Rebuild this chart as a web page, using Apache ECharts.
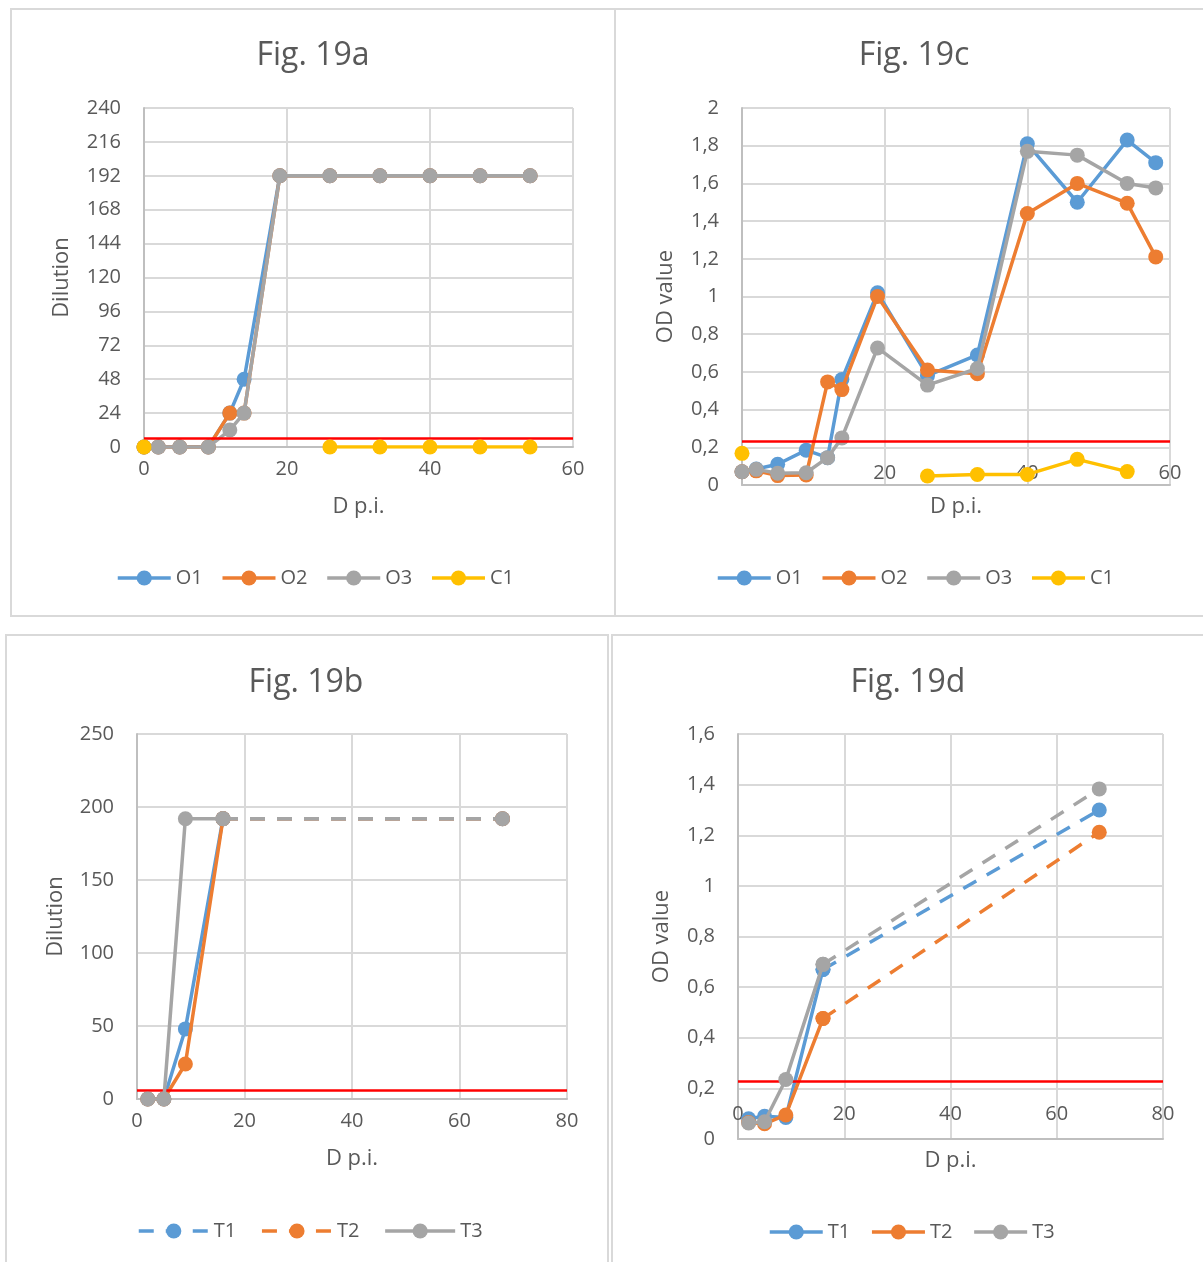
<!DOCTYPE html>
<html>
<head>
<meta charset="utf-8">
<title>Fig. 19</title>
<script src="https://cdn.jsdelivr.net/npm/echarts/dist/echarts.min.js"></script>
<style>
  html, body { margin: 0; padding: 0; background: #ffffff; }
  body { position: relative; width: 1203px; height: 1262px; overflow: hidden; }
  .frame { position: absolute; border: 2px solid #d9d9d9; box-sizing: border-box; }
  .chart { position: absolute; }
</style>
</head>
<body>
<div class="frame" style="left:10px;top:8px;width:606px;height:609px"></div>
<div class="frame" style="left:614px;top:8px;width:620px;height:609px"></div>
<div class="frame" style="left:5px;top:634px;width:604px;height:700px"></div>
<div class="frame" style="left:611px;top:634px;width:620px;height:700px"></div>

<div id="figA" class="chart" style="left:10px;top:8px;width:606px;height:609px"></div>
<div id="figC" class="chart" style="left:615px;top:8px;width:598px;height:609px"></div>
<div id="figB" class="chart" style="left:5px;top:635px;width:602px;height:627px"></div>
<div id="figD" class="chart" style="left:612px;top:635px;width:592px;height:627px"></div>

<script>
// ---- Fig. 19a: dilution titres, O1-O3 and control C1 ----
const daysO = [0, 2, 5, 9, 12, 14, 19, 26, 33, 40, 47, 54];
const dilutionO1 = [0, 0, 0, 0, 24, 48, 192, 192, 192, 192, 192, 192];
const dilutionO2 = [0, 0, 0, 0, 24, 24, 192, 192, 192, 192, 192, 192];
const dilutionO3 = [0, 0, 0, 0, 12, 24, 192, 192, 192, 192, 192, 192];
const dilutionC1 = [0, null, null, null, null, null, null, 0, 0, 0, 0, 0];

// ---- Fig. 19c: OD values, O1-O3 and control C1 ----
const daysOD = [0, 2, 5, 9, 12, 14, 19, 26, 33, 40, 47, 54, 58];
const odO1 = [0.07, 0.085, 0.11, 0.185, 0.145, 0.56, 1.02, 0.58, 0.69, 1.81, 1.50, 1.83, 1.71];
const odO2 = [0.07, 0.075, 0.05, 0.053, 0.547, 0.506, 1.00, 0.61, 0.59, 1.44, 1.60, 1.495, 1.21];
const odO3 = [0.07, 0.083, 0.062, 0.065, 0.145, 0.25, 0.727, 0.53, 0.618, 1.77, 1.75, 1.60, 1.576];
const odC1 = [0.168, null, null, null, null, null, null, 0.048, 0.056, 0.056, 0.136, 0.071, null];

// ---- Fig. 19b / 19d: T1-T3 ----
const daysT = [2, 5, 9, 16, 68];
const dilutionT1 = [0, 0, 48, 192, 192];
const dilutionT2 = [0, 0, 24, 192, 192];
const dilutionT3 = [0, 0, 192, 192, 192];
const odT1 = [0.08, 0.09, 0.085, 0.67, 1.30];
const odT2 = [0.065, 0.06, 0.095, 0.476, 1.212];
const odT3 = [0.063, 0.068, 0.235, 0.69, 1.383];
// the T series are joined by a dashed segment from this sample onwards
const dashedFrom = 3;

// cut-off levels (red lines)
const dilutionCutoff = 6;
const odCutoff = 0.23;

// tick settings
const dilutionTicksA = { max: 240, interval: 24 };
const dilutionTicksB = { max: 250, interval: 50 };
const odTicksC = { max: 2, interval: 0.2 };
const odTicksD = { max: 1.6, interval: 0.2 };
const dayTicksShort = { max: 60, interval: 20 };
const dayTicksLong = { max: 80, interval: 20 };

const FONT = '"Open Sans", "Liberation Sans", sans-serif';
const TEXT = '#595959';
const BLUE = '#5B9BD5', ORANGE = '#ED7D31', GREY = '#A5A5A5', YELLOW = '#FFC000';

function pairs(xs, ys, from, to) {
  const out = [];
  for (let i = from; i < to; i++) out.push([xs[i], ys[i] == null ? '-' : ys[i]]);
  return out;
}
function allPairs(xs, ys) { return pairs(xs, ys, 0, xs.length); }

function lineSeries(name, data, color, z, dashed) {
  return {
    name, type: 'line', data, z,
    symbol: 'circle', symbolSize: 15, showAllSymbol: true,
    connectNulls: false,
    lineStyle: { color, width: 3.5, type: dashed ? [15, 12] : 'solid', cap: 'butt' },
    itemStyle: { color },
    emphasis: { disabled: true },
    animation: false
  };
}

function cutoffSeries(value) {
  return {
    name: 'cut-off', type: 'line', data: [], z: 1, silent: true, animation: false,
    markLine: {
      silent: true, animation: false, symbol: ['none', 'none'],
      label: { show: false },
      lineStyle: { color: '#FF0000', width: 2.5, type: 'solid' },
      data: [{ yAxis: value }]
    }
  };
}

const decimalComma = v => String(+(+v).toFixed(1)).replace('.', ',');

function xAxisOpt(ticks, inside, margin, nameGap) {
  return {
    type: 'value', min: 0, max: ticks.max, interval: ticks.interval,
    name: 'D p.i.', nameLocation: 'middle', nameGap,
    nameTextStyle: { color: TEXT, fontSize: 22, fontFamily: FONT },
    axisLine: { show: true, onZero: false, lineStyle: { color: '#BFBFBF', width: 2 } },
    axisTick: { show: false },
    axisLabel: { color: TEXT, fontSize: 20, fontFamily: FONT, inside, margin },
    splitLine: { show: true, lineStyle: { color: '#D9D9D9', width: 2 } }
  };
}

function yAxisOpt(ticks, name, nameGap, formatter) {
  return {
    type: 'value', min: 0, max: ticks.max, interval: ticks.interval,
    name, nameLocation: 'middle', nameGap,
    nameTextStyle: { color: TEXT, fontSize: 22, fontFamily: FONT },
    axisLine: { show: true, lineStyle: { color: '#BFBFBF', width: 2 } },
    axisTick: { show: false },
    axisLabel: { color: TEXT, fontSize: 20, fontFamily: FONT, margin: 23, formatter },
    splitLine: { show: true, lineStyle: { color: '#D9D9D9', width: 2 } }
  };
}

function legendOpt(left, top, names, itemWidth, itemGap) {
  return {
    left, top, padding: 0, itemWidth, itemHeight: 19, itemGap,
    selectedMode: false, data: names,
    textStyle: { color: TEXT, fontSize: 20, fontFamily: FONT },
    lineStyle: { width: 3.5 }
  };
}

function titleOpt(text, top) {
  return {
    text, left: 'center', top, padding: 0,
    textStyle: { color: TEXT, fontSize: 32, fontWeight: 'normal', fontFamily: FONT }
  };
}

function render(id, option) {
  const chart = echarts.init(document.getElementById(id), null, { renderer: 'canvas' });
  option.animation = false;
  option.textStyle = { fontFamily: FONT };
  chart.setOption(option);
}

// Fig. 19a  (container origin 10, 8)
render('figA', {
  title: titleOpt('Fig. 19a', 32),
  grid: { left: 134, top: 100, width: 429, height: 339 },
  xAxis: xAxisOpt(dayTicksShort, false, 12, 49),
  yAxis: yAxisOpt(dilutionTicksA, 'Dilution', 71),
  legend: legendOpt(106, 560, ['O1', 'O2', 'O3', 'C1'], 53, 18),
  series: [
    cutoffSeries(dilutionCutoff),
    lineSeries('O1', allPairs(daysO, dilutionO1), BLUE, 2),
    lineSeries('O2', allPairs(daysO, dilutionO2), ORANGE, 3),
    lineSeries('O3', allPairs(daysO, dilutionO3), GREY, 4),
    lineSeries('C1', allPairs(daysO, dilutionC1), YELLOW, 5)
  ]
});

// Fig. 19c  (container origin 615, 8)
render('figC', {
  title: titleOpt('Fig. 19c', 32),
  grid: { left: 127, top: 100, width: 428, height: 377 },
  xAxis: xAxisOpt(dayTicksShort, true, 2, 11),
  yAxis: yAxisOpt(odTicksC, 'OD value', 65, decimalComma),
  legend: legendOpt(101, 560, ['O1', 'O2', 'O3', 'C1'], 53, 18),
  series: [
    cutoffSeries(odCutoff),
    lineSeries('O1', allPairs(daysOD, odO1), BLUE, 2),
    lineSeries('O2', allPairs(daysOD, odO2), ORANGE, 3),
    lineSeries('O3', allPairs(daysOD, odO3), GREY, 4),
    lineSeries('C1', allPairs(daysOD, odC1), YELLOW, 5)
  ]
});

// Fig. 19b  (container origin 5, 635)
const nT = daysT.length;
render('figB', {
  title: titleOpt('Fig. 19b', 32),
  grid: { left: 132, top: 99, width: 430, height: 365 },
  xAxis: xAxisOpt(dayTicksLong, false, 12, 49),
  yAxis: yAxisOpt(dilutionTicksB, 'Dilution', 70),
  legend: legendOpt(132, 586, ['T1', 'T2', 'T3'], 70, 24),
  series: [
    cutoffSeries(dilutionCutoff),
    lineSeries('T1 measured', pairs(daysT, dilutionT1, 0, dashedFrom + 1), BLUE, 2),
    lineSeries('T1', pairs(daysT, dilutionT1, dashedFrom, nT), BLUE, 3, true),
    lineSeries('T2 measured', pairs(daysT, dilutionT2, 0, dashedFrom + 1), ORANGE, 4),
    lineSeries('T2', pairs(daysT, dilutionT2, dashedFrom, nT), ORANGE, 5, true),
    lineSeries('T3', pairs(daysT, dilutionT3, 0, dashedFrom + 1), GREY, 6),
    lineSeries('T3 extended', pairs(daysT, dilutionT3, dashedFrom, nT), GREY, 7, true)
  ]
});

// Fig. 19d  (container origin 612, 635)
render('figD', {
  title: titleOpt('Fig. 19d', 32),
  grid: { left: 126, top: 99, width: 425, height: 405 },
  xAxis: xAxisOpt(dayTicksLong, true, 15, 11),
  yAxis: yAxisOpt(odTicksD, 'OD value', 65, decimalComma),
  legend: legendOpt(156, 587, ['T1', 'T2', 'T3'], 53, 20),
  series: [
    cutoffSeries(odCutoff),
    lineSeries('T1', pairs(daysT, odT1, 0, dashedFrom + 1), BLUE, 2),
    lineSeries('T1 extended', pairs(daysT, odT1, dashedFrom, nT), BLUE, 3, true),
    lineSeries('T2', pairs(daysT, odT2, 0, dashedFrom + 1), ORANGE, 4),
    lineSeries('T2 extended', pairs(daysT, odT2, dashedFrom, nT), ORANGE, 5, true),
    lineSeries('T3', pairs(daysT, odT3, 0, dashedFrom + 1), GREY, 6),
    lineSeries('T3 extended', pairs(daysT, odT3, dashedFrom, nT), GREY, 7, true)
  ]
});
</script>
</body>
</html>
